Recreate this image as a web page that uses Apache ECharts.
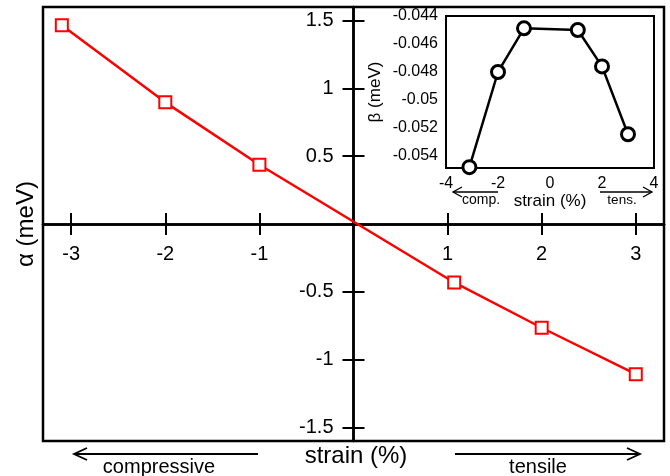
<!DOCTYPE html>
<html lang="en">
<head>
<meta charset="UTF-8">
<title>alpha / beta vs strain</title>
<script src="https://cdn.jsdelivr.net/npm/echarts@6/dist/echarts.min.js"></script>
<style>
    html, body { margin: 0; padding: 0; background: #fff; }
    #main { width: 670px; height: 476px; }
</style>
</head>
<body>
<div id="main"></div>
<script>
// data
var strain = [-3.1, -2, -1, 1.07, 2, 3];
var alpha = [1.466, 0.897, 0.437, -0.431, -0.765, -1.107];
var beta = [-0.0548, -0.0480, -0.04488, -0.0450, -0.0476, -0.05245];

// tick labels
var xTicks = [-3, -2, -1, 1, 2, 3];
var yTicks = [-1.5, -1, -0.5, 0.5, 1, 1.5];

function pairs(xs, ys) {
    return xs.map(function (x, i) { return [x, ys[i]]; });
}

var font = 'Liberation Sans';
var black = { color: '#000', width: 2.5 };
var tickStyle = { color: '#000', width: 2 };

// main plot box and ranges
var mainBox = { left: 43, top: 7, width: 621, height: 434 };
var xMin = -3.3, xMax = 3.3, yMin = -1.6, yMax = 1.6;
// move the axes from the box edges onto the zero lines (labels follow them)
var xShift = -mainBox.height * (0 - yMin) / (yMax - yMin);
var yShift = -mainBox.width * (0 - xMin) / (xMax - xMin);

var myChart = echarts.init(document.getElementById('main'));

var option = {
    animation: false,
    textStyle: { fontFamily: font, color: '#000' },
    grid: [
        {
            left: mainBox.left, top: mainBox.top, width: mainBox.width, height: mainBox.height,
            outerBoundsMode: 'none', containLabel: false,
            show: true, borderColor: '#000', borderWidth: 2.5, backgroundColor: '#fff'
        },
        {
            left: 446, top: 16, width: 208, height: 152,
            outerBoundsMode: 'none', containLabel: false,
            show: true, borderColor: '#000', borderWidth: 2, backgroundColor: '#fff', z: 5
        }
    ],
    xAxis: [
        {
            type: 'value', gridIndex: 0, min: xMin, max: xMax, position: 'bottom', offset: xShift,
            axisLine: { onZero: false, lineStyle: black },
            axisTick: { inside: false, length: 11, customValues: xTicks, lineStyle: tickStyle },
            axisLabel: { customValues: xTicks, margin: 20, fontSize: 20, color: '#000' },
            splitLine: { show: false }
        },
        {
            // same axis again so the ticks cross the line
            type: 'value', gridIndex: 0, min: xMin, max: xMax, position: 'bottom', offset: xShift,
            axisLine: { onZero: false, lineStyle: black },
            axisTick: { inside: true, length: 11, customValues: xTicks, lineStyle: tickStyle },
            axisLabel: { show: false },
            splitLine: { show: false }
        },
        {
            type: 'value', gridIndex: 1, min: -4, max: 4, interval: 2, position: 'bottom',
            axisLine: { onZero: false, lineStyle: { color: '#000', width: 2 } },
            axisTick: { inside: true, length: 10, lineStyle: tickStyle },
            minorTick: { show: true, splitNumber: 2, length: 6, lineStyle: tickStyle },
            axisLabel: { margin: 8, fontSize: 16, color: '#000' },
            splitLine: { show: false },
            name: 'strain (%)', nameLocation: 'middle', nameGap: 17,
            nameTextStyle: { fontSize: 17, color: '#000' }
        },
        {
            type: 'value', gridIndex: 1, min: -4, max: 4, interval: 2, position: 'top',
            axisLine: { onZero: false, lineStyle: { color: '#000', width: 2 } },
            axisTick: { inside: true, length: 10, lineStyle: tickStyle },
            minorTick: { show: true, splitNumber: 2, length: 6, lineStyle: tickStyle },
            axisLabel: { show: false },
            splitLine: { show: false }
        }
    ],
    yAxis: [
        {
            type: 'value', gridIndex: 0, min: yMin, max: yMax, position: 'left', offset: yShift,
            axisLine: { onZero: false, lineStyle: black },
            axisTick: { inside: false, length: 11, customValues: yTicks, lineStyle: tickStyle },
            axisLabel: { customValues: yTicks, margin: 20, fontSize: 20, color: '#000' },
            splitLine: { show: false }
        },
        {
            type: 'value', gridIndex: 0, min: yMin, max: yMax, position: 'left', offset: yShift,
            axisLine: { onZero: false, lineStyle: black },
            axisTick: { inside: true, length: 11, customValues: yTicks, lineStyle: tickStyle },
            axisLabel: { show: false },
            splitLine: { show: false }
        },
        {
            type: 'value', gridIndex: 1, min: -0.05486, max: -0.044, position: 'left',
            axisLine: { onZero: false, lineStyle: { color: '#000', width: 2 } },
            axisTick: { inside: true, length: 10, lineStyle: tickStyle },
            minorTick: { show: true, splitNumber: 2, length: 6, lineStyle: tickStyle },
            axisLabel: { margin: 8, fontSize: 16, color: '#000', showMinLabel: false },
            splitLine: { show: false },
            name: 'β (meV)', nameLocation: 'middle', nameGap: 62,
            nameTextStyle: { fontSize: 17, color: '#000' }
        },
        {
            type: 'value', gridIndex: 1, min: -0.05486, max: -0.044, position: 'right',
            axisLine: { onZero: false, lineStyle: { color: '#000', width: 2 } },
            axisTick: { inside: true, length: 10, lineStyle: tickStyle },
            minorTick: { show: true, splitNumber: 2, length: 6, lineStyle: tickStyle },
            axisLabel: { show: false },
            splitLine: { show: false }
        }
    ],
    series: [
        {
            name: 'alpha', type: 'line', xAxisIndex: 0, yAxisIndex: 0,
            data: pairs(strain, alpha),
            symbol: 'rect', symbolSize: 12,
            lineStyle: { color: '#ff0000', width: 2.5 },
            itemStyle: { color: '#fff', borderColor: '#ff0000', borderWidth: 2 },
            z: 3
        },
        {
            name: 'beta', type: 'line', xAxisIndex: 2, yAxisIndex: 2,
            data: pairs(strain, beta),
            symbol: 'circle', symbolSize: 13,
            lineStyle: { color: '#000', width: 2.5 },
            itemStyle: { color: '#fff', borderColor: '#000', borderWidth: 3 },
            clip: false,
            z: 6
        }
    ],
    graphic: [
        { type: 'text', x: 356, y: 456, style: { text: 'strain (%)', fontSize: 24, fontFamily: font, fill: '#000', align: 'center', verticalAlign: 'middle' } },
        { type: 'text', x: 26, y: 224, rotation: Math.PI / 2, style: { text: 'α (meV)', fontSize: 24, fontFamily: font, fill: '#000', align: 'center', verticalAlign: 'middle' } },
        { type: 'text', x: 159, y: 467, style: { text: 'compressive', fontSize: 20, fontFamily: font, fill: '#000', align: 'center', verticalAlign: 'middle' } },
        { type: 'text', x: 538, y: 467, style: { text: 'tensile', fontSize: 20, fontFamily: font, fill: '#000', align: 'center', verticalAlign: 'middle' } },
        { type: 'polyline', shape: { points: [[258, 454], [74, 454]] }, style: { stroke: '#000', lineWidth: 1.8, fill: null } },
        { type: 'polyline', shape: { points: [[87, 448], [74, 454], [87, 460]] }, style: { stroke: '#000', lineWidth: 1.8, fill: null } },
        { type: 'polyline', shape: { points: [[455, 454], [640, 454]] }, style: { stroke: '#000', lineWidth: 1.8, fill: null } },
        { type: 'polyline', shape: { points: [[627, 448], [640, 454], [627, 460]] }, style: { stroke: '#000', lineWidth: 1.8, fill: null } },
        { type: 'text', x: 481, y: 200, z: 10, style: { text: 'comp.', fontSize: 14, fontFamily: font, fill: '#000', align: 'center', verticalAlign: 'middle' } },
        { type: 'text', x: 622, y: 200, z: 10, style: { text: 'tens.', fontSize: 13.5, fontFamily: font, fill: '#000', align: 'center', verticalAlign: 'middle' } },
        { type: 'polyline', z: 10, shape: { points: [[498, 192], [453, 192]] }, style: { stroke: '#000', lineWidth: 1.3, fill: null } },
        { type: 'polyline', z: 10, shape: { points: [[462, 187], [453, 192], [462, 197]] }, style: { stroke: '#000', lineWidth: 1.3, fill: null } },
        { type: 'polyline', z: 10, shape: { points: [[600, 192], [652, 192]] }, style: { stroke: '#000', lineWidth: 1.3, fill: null } },
        { type: 'polyline', z: 10, shape: { points: [[643, 187], [652, 192], [643, 197]] }, style: { stroke: '#000', lineWidth: 1.3, fill: null } }
    ]
};

myChart.setOption(option);
</script>
</body>
</html>
